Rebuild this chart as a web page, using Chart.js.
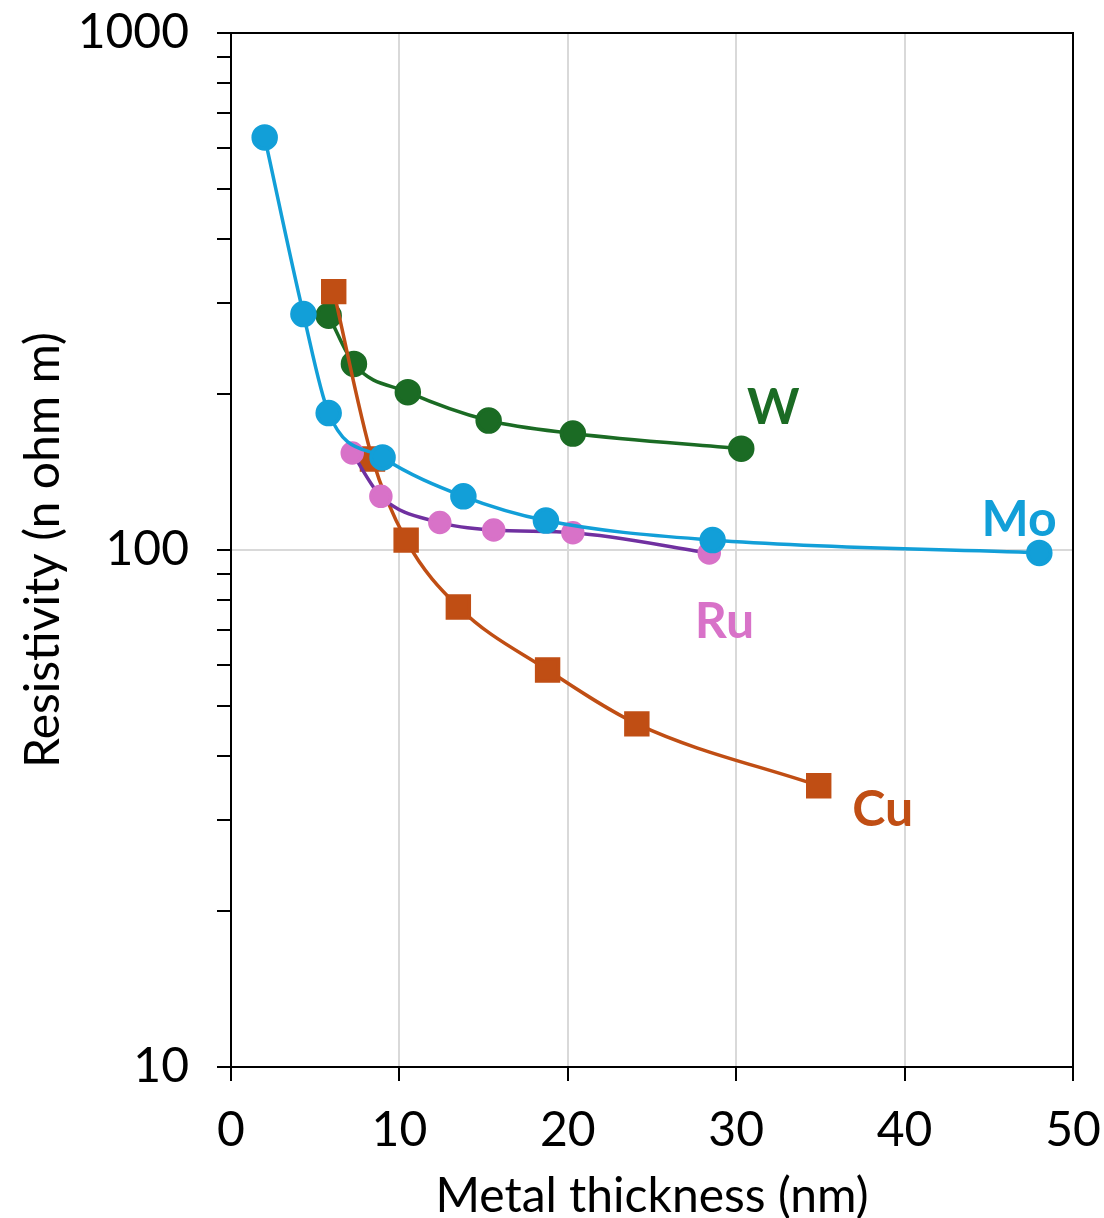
<!DOCTYPE html>
<html>
<head>
<meta charset="utf-8">
<script src="https://cdn.jsdelivr.net/npm/chart.js@4/dist/chart.umd.min.js"></script>
<style>
  html, body { margin: 0; padding: 0; background: #fff; }
  #wrap { width: 1104px; height: 1218px; }
</style>
</head>
<body>
<div id="wrap"><canvas id="myChart" width="1104" height="1218"></canvas></div>
<script>
// values (x = nm, y = n ohm m)
var moX = [2.0, 4.3, 5.8, 9.0, 13.8, 18.7, 28.6, 48.0];
var moY = [628, 286, 184, 151, 127, 114, 104.5, 98.7];

var wX = [5.8, 7.3, 10.5, 15.3, 20.3, 30.3];
var wY = [284, 229, 202, 178, 168, 157];

var cuX = [6.1, 8.4, 10.4, 13.5, 18.8, 24.1, 34.9];
var cuY = [316, 150, 104.5, 77.6, 58.6, 46.1, 35.0];

var ruX = [7.2, 8.9, 12.4, 15.6, 20.3, 28.4];
var ruY = [154, 127, 113, 109.3, 108, 98.7];

var xTicks = [0, 10, 20, 30, 40, 50];
var yTickLabels = [10, 100, 1000];

// series name labels, placed in data units
var labelText = ["W", "Mo", "Ru", "Cu"];
var labelX = [32.2, 46.8, 29.3, 38.7];
var labelY = [188, 114.5, 72.6, 31.4];
var labelColor = ["#1b6b24", "#129fd8", "#d872c8", "#c04e14"];

function pts(xs, ys) {
  return xs.map(function(x, i){ return {x: x, y: ys[i]}; });
}

var fontName = "Lato, 'Noto Sans', sans-serif";

var boxAndLabels = {
  id: "boxAndLabels",
  afterDatasetsDraw: function(chart) {
    var c = chart.ctx, a = chart.chartArea;
    var xs = chart.scales.x, ys = chart.scales.y;
    c.save();
    c.strokeStyle = "#000";
    c.lineWidth = 2;
    c.strokeRect(a.left, a.top, a.right - a.left, a.bottom - a.top);
    c.font = "bold 50px " + fontName;
    c.textAlign = "center";
    c.textBaseline = "middle";
    for (var i = 0; i < labelText.length; i++) {
      c.fillStyle = labelColor[i];
      c.fillText(labelText[i], xs.getPixelForValue(labelX[i]), ys.getPixelForValue(labelY[i]));
    }
    c.restore();
  }
};

var ctx = document.getElementById("myChart");
var chart = new Chart(ctx, {
  type: "scatter",
  data: {
    datasets: [{
      label: "Mo",
      data: pts(moX, moY),
      showLine: true,
      borderColor: "#129fd8",
      backgroundColor: "#129fd8",
      borderWidth: 3.5,
      pointRadius: 11.5,
      pointHoverRadius: 11.5,
      cubicInterpolationMode: "monotone",
      order: 0
    }, {
      label: "Ru",
      data: pts(ruX, ruY),
      showLine: true,
      borderColor: "#7030a0",
      backgroundColor: "#d872c8",
      pointBorderColor: "#d872c8",
      borderWidth: 3.5,
      pointRadius: 10,
      pointHoverRadius: 10,
      cubicInterpolationMode: "monotone",
      order: 1
    }, {
      label: "Cu",
      data: pts(cuX, cuY),
      showLine: true,
      borderColor: "#c04e14",
      backgroundColor: "#c04e14",
      borderWidth: 3.5,
      pointStyle: "rect",
      pointRadius: 15.5,
      pointHoverRadius: 15.5,
      cubicInterpolationMode: "monotone",
      order: 2
    }, {
      label: "W",
      data: pts(wX, wY),
      showLine: true,
      borderColor: "#1b6b24",
      backgroundColor: "#1b6b24",
      borderWidth: 3.5,
      pointRadius: 11.5,
      pointHoverRadius: 11.5,
      cubicInterpolationMode: "monotone",
      order: 3
    }]
  },
  options: {
    responsive: false,
    animation: false,
    layout: { padding: { top: 33, right: 31, left: 0, bottom: 0 } },
    plugins: {
      legend: { display: false },
      tooltip: { enabled: false }
    },
    scales: {
      x: {
        type: "linear",
        min: 0,
        max: 50,
        afterBuildTicks: function(scale) {
          scale.ticks = xTicks.map(function(v){ return {value: v}; });
        },
        afterFit: function(scale) {
          scale.height = 151;
          scale.paddingLeft = 0;
          scale.paddingRight = 0;
        },
        ticks: {
          color: "#000",
          font: { family: fontName, size: 48 },
          padding: 21,
          maxRotation: 0
        },
        grid: {
          color: function(c) {
            var v = c.tick ? c.tick.value : null;
            return (v === 0 || v === 50) ? "rgba(0,0,0,0)" : "#d9d9d9";
          },
          lineWidth: 2,
          tickColor: "#000",
          tickWidth: 2,
          tickLength: 14
        },
        border: { color: "#000", width: 2 },
        title: {
          display: true,
          text: "Metal thickness (nm)",
          color: "#000",
          font: { family: fontName, size: 48, lineHeight: 0.9 },
          padding: { top: 0, bottom: 0 }
        }
      },
      y: {
        type: "logarithmic",
        min: 10,
        max: 1000,
        afterBuildTicks: function(scale) {
          var t = [];
          [10, 100].forEach(function(d) {
            for (var k = 1; k < 10; k++) t.push({value: d * k, major: k === 1});
          });
          t.push({value: 1000, major: true});
          scale.ticks = t;
        },
        afterFit: function(scale) {
          scale.width = 231;
          scale.paddingTop = 0;
          scale.paddingBottom = 0;
        },
        ticks: {
          color: "#000",
          font: { family: fontName, size: 48 },
          padding: 28,
          autoSkip: false,
          callback: function(value) {
            return yTickLabels.indexOf(value) >= 0 ? String(value) : "";
          }
        },
        grid: {
          color: function(c) {
            return (c.tick && c.tick.value === 100) ? "#d9d9d9" : "rgba(0,0,0,0)";
          },
          lineWidth: 2,
          tickColor: "#000",
          tickWidth: 2,
          tickLength: 14
        },
        border: { color: "#000", width: 2 },
        title: {
          display: true,
          text: "Resistivity (n ohm m)",
          color: "#000",
          font: { family: fontName, size: 48, lineHeight: 0.9 },
          padding: { top: 22, bottom: 0 }
        }
      }
    }
  },
  plugins: [boxAndLabels]
});
</script>
</body>
</html>
